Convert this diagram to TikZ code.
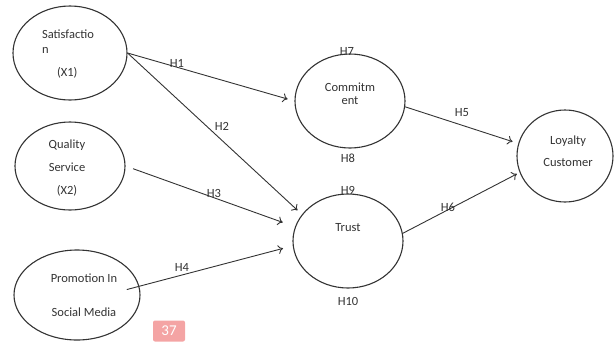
\documentclass[tikz,border=0pt]{standalone}
\usepackage{fontspec}
\setmainfont{Carlito}
\usetikzlibrary{shapes.geometric,arrows.meta}
\definecolor{badge}{RGB}{244,164,164}

\begin{document}
\begin{tikzpicture}[
  x=1pt, y=-1pt,
  v/.style={ellipse, draw=black!80, line width=1.1pt, inner sep=0pt},
  t/.style={text=black!80, font=\fontsize{12.5}{15}\selectfont, inner sep=0pt},
  h/.style={text=black!80, font=\fontsize{12.5}{14}\selectfont, inner sep=0pt},
  e/.style={draw=black!80, line width=0.9pt, -{To[length=5pt,width=9pt]}}
]
\useasboundingbox (0,0) rectangle (614,341);
% constructs
\node[v, minimum width=114pt, minimum height=94pt] (sat) at (70,53) {};
\node[v, minimum width=110pt, minimum height=88pt] (qual) at (70,166) {};
\node[v, minimum width=126pt, minimum height=90pt] (promo) at (77,295) {};
\node[v, minimum width=110pt, minimum height=94pt] (com) at (350,101) {};
\node[v, minimum width=110pt, minimum height=94pt] (trust) at (348,241) {};
\node[v, minimum width=96pt, minimum height=92pt] (loy) at (565,156) {};
% texts
\node[t, align=left] (sat-t) at (68,54) {Satisfactio\\n\\[8pt]\hspace*{15pt}(X1)};
\node[t, align=center, font=\fontsize{12.5}{23}\selectfont] (qual-t) at (67,168) {Quality\\Service\\(X2)};
\node[t, align=center, font=\fontsize{12.5}{34}\selectfont] (promo-t) at (84,295) {Promotion In\\Social Media};
\node[t, align=center, font=\fontsize{12.5}{13}\selectfont] (com-t) at (350,94) {Commitm\\ent};
\node[t] (trust-t) at (348,228) {Trust};
\node[t, align=center, font=\fontsize{12.5}{22}\selectfont] (loy-t) at (568,151) {Loyalty\\Customer};
% paths
\draw[e, shorten >=7pt] (sat.east) -- (com.west);
\draw[e, shorten >=6pt] (sat.east) -- (trust.150);
\draw[e, shorten <=8pt, shorten >=13pt] (qual.east) -- (trust.165);
\draw[e, shorten <=-13pt, shorten >=10pt] (promo.8) -- (trust.185);
\draw[e, shorten >=6pt] (com.-6) -- (loy.165);
\draw[e, shorten >=3pt] (trust.8) -- (loy.200);
% hypotheses
\node[h] (h1) at (177,63) {H1};
\node[h] (h2) at (222,126) {H2};
\node[h] (h3) at (214,193) {H3};
\node[h] (h4) at (182,267) {H4};
\node[h] (h5) at (462,113) {H5};
\node[h] (h6) at (448,207) {H6};
\node[h] (h7) at (347,51) {H7};
\node[h] (h8) at (348,158) {H8};
\node[h] (h9) at (348,190) {H9};
\node[h] (h10) at (348,301) {H10};
\node[fill=badge, rounded corners=2pt, minimum width=32pt, minimum height=21pt, text=white, font=\fontsize{15}{15}\selectfont] (pg) at (169,331) {37};
\end{tikzpicture}
\end{document}
